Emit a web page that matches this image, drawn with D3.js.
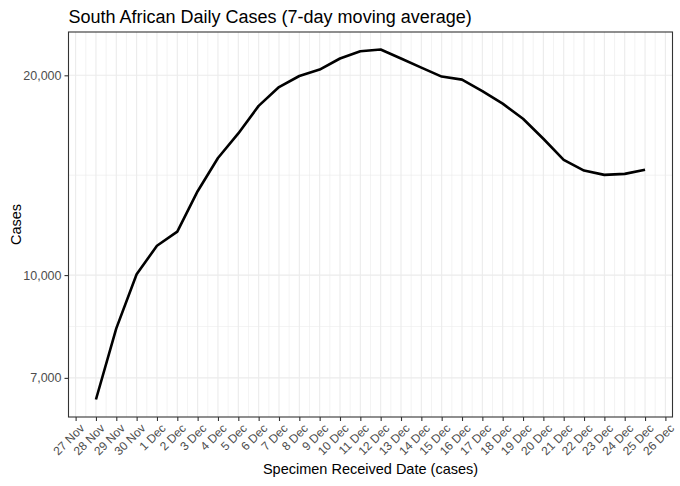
<!DOCTYPE html>
<html>
<head>
<meta charset="utf-8">
<script src="https://cdn.jsdelivr.net/npm/d3@7"></script>
<style>
  html, body { margin: 0; padding: 0; background: #fff; }
  svg { display: block; font-family: "Liberation Sans", Arial, Helvetica, sans-serif; }
  .axis text { font-family: "Liberation Sans", Arial, Helvetica, sans-serif; fill: #4d4d4d; }
  .yaxis text { font-size: 12.5px; }
  .xaxis text { font-size: 12px; }
</style>
</head>
<body>
<svg id="chart" width="680" height="486"></svg>
<script>
// ---- data ----
const dates = ["2021-11-28","2021-11-29","2021-11-30","2021-12-01","2021-12-02","2021-12-03","2021-12-04",
  "2021-12-05","2021-12-06","2021-12-07","2021-12-08","2021-12-09","2021-12-10","2021-12-11","2021-12-12",
  "2021-12-13","2021-12-14","2021-12-15","2021-12-16","2021-12-17","2021-12-18","2021-12-19","2021-12-20",
  "2021-12-21","2021-12-22","2021-12-23","2021-12-24","2021-12-25"];
const cases = [6494, 8311, 10028, 11072, 11626, 13378, 15012,
  16349, 17988, 19203, 19952, 20400, 21202, 21746, 21874,
  21202, 20545, 19912, 19703, 18937, 18126, 17204, 16050,
  14918, 14372, 14158, 14208, 14409];
const yTicks = [7000, 10000, 20000];
const xTickDates = ["2021-11-27","2021-11-28","2021-11-29","2021-11-30","2021-12-01","2021-12-02","2021-12-03",
  "2021-12-04","2021-12-05","2021-12-06","2021-12-07","2021-12-08","2021-12-09","2021-12-10","2021-12-11",
  "2021-12-12","2021-12-13","2021-12-14","2021-12-15","2021-12-16","2021-12-17","2021-12-18","2021-12-19",
  "2021-12-20","2021-12-21","2021-12-22","2021-12-23","2021-12-24","2021-12-25","2021-12-26"];
const titleText = "South African Daily Cases (7-day moving average)";
const xTitle = "Specimen Received Date (cases)";
const yTitle = "Cases";

// ---- layout ----
const svg = d3.select("#chart");
const m = { left: 68.5, right: 672.5, top: 32, bottom: 417 };

const parse = d3.utcParse("%Y-%m-%d");
const data = dates.map((d, i) => ({ date: parse(d), value: cases[i] }));
const xt = xTickDates.map(parse);

// ggplot-like 5% expansion
const DAY = 86400000;
const [dmin, dmax] = d3.extent(data, d => d.date);
const span = (dmax - dmin);
const x = d3.scaleUtc()
  .domain([new Date(+dmin - span * 0.05), new Date(+dmax + span * 0.05)])
  .range([m.left, m.right]);

const [vmin, vmax] = d3.extent(cases);
const lmin = Math.log10(vmin), lmax = Math.log10(vmax), lr = lmax - lmin;
const y = d3.scaleLog()
  .domain([Math.pow(10, lmin - lr * 0.05), Math.pow(10, lmax + lr * 0.05)])
  .range([m.bottom, m.top]);

const g = svg.append("g");

// minor gridlines (vertical: half days)
const xMinor = xt.slice(0, -1).map(d => new Date(+d + DAY / 2));
g.selectAll(".vminor").data(xMinor).enter().append("line")
  .attr("x1", d => x(d)).attr("x2", d => x(d))
  .attr("y1", m.top).attr("y2", m.bottom)
  .attr("stroke", "#ebebeb").attr("stroke-width", 0.6);

// minor horizontal: midpoints in log space
const yMinor = [];
for (let i = 0; i < yTicks.length - 1; i++) yMinor.push(Math.sqrt(yTicks[i] * yTicks[i + 1]));
g.selectAll(".hminor").data(yMinor).enter().append("line")
  .attr("x1", m.left).attr("x2", m.right)
  .attr("y1", d => y(d)).attr("y2", d => y(d))
  .attr("stroke", "#ebebeb").attr("stroke-width", 0.6);

// major gridlines
g.selectAll(".vmajor").data(xt).enter().append("line")
  .attr("x1", d => x(d)).attr("x2", d => x(d))
  .attr("y1", m.top).attr("y2", m.bottom)
  .attr("stroke", "#ebebeb").attr("stroke-width", 1.1);
g.selectAll(".hmajor").data(yTicks).enter().append("line")
  .attr("x1", m.left).attr("x2", m.right)
  .attr("y1", d => y(d)).attr("y2", d => y(d))
  .attr("stroke", "#ebebeb").attr("stroke-width", 1.1);

// line
const line = d3.line().x(d => x(d.date)).y(d => y(d.value));
svg.append("path").datum(data)
  .attr("d", line)
  .attr("fill", "none")
  .attr("stroke", "#000")
  .attr("stroke-width", 2.6)
  .attr("stroke-linejoin", "round");

// panel border
svg.append("rect")
  .attr("x", m.left).attr("y", m.top)
  .attr("width", m.right - m.left).attr("height", m.bottom - m.top)
  .attr("fill", "none").attr("stroke", "#333333").attr("stroke-width", 1.1);

// y axis
const fmt = d3.format(",");
const yAxis = d3.axisLeft(y).tickValues(yTicks).tickFormat(fmt).tickSize(4).tickPadding(3);
const ya = svg.append("g").attr("class", "axis yaxis")
  .attr("transform", `translate(${m.left},0)`).call(yAxis)
  .attr("font-size", null).attr("font-family", null);
ya.select(".domain").remove();
ya.selectAll(".tick line").attr("stroke", "#333333").attr("stroke-width", 1.1);
ya.selectAll(".tick text").attr("fill", "#4d4d4d");

// x axis
const xAxis = d3.axisBottom(x).tickValues(xt).tickFormat(d3.utcFormat("%-d %b")).tickSize(4).tickPadding(0);
const xa = svg.append("g").attr("class", "axis xaxis")
  .attr("transform", `translate(0,${m.bottom})`).call(xAxis)
  .attr("font-size", null).attr("font-family", null);
xa.select(".domain").remove();
xa.selectAll(".tick line").attr("stroke", "#333333").attr("stroke-width", 1.1);
xa.selectAll(".tick text")
  .attr("fill", "#4d4d4d")
  .attr("text-anchor", "end")
  .attr("y", 0).attr("dy", "0.71em")
  .attr("transform", "translate(3,6) rotate(-45)");

// titles
svg.append("text")
  .attr("x", m.left).attr("y", 23)
  .attr("font-size", 18).attr("fill", "#000")
  .text(titleText);

svg.append("text")
  .attr("x", (m.left + m.right) / 2).attr("y", 474)
  .attr("text-anchor", "middle")
  .attr("font-size", 14.5).attr("fill", "#000")
  .text(xTitle);

svg.append("text")
  .attr("transform", `translate(21,${(m.top + m.bottom) / 2}) rotate(-90)`)
  .attr("text-anchor", "middle")
  .attr("font-size", 14.5).attr("fill", "#000")
  .text(yTitle);
</script>
</body>
</html>
